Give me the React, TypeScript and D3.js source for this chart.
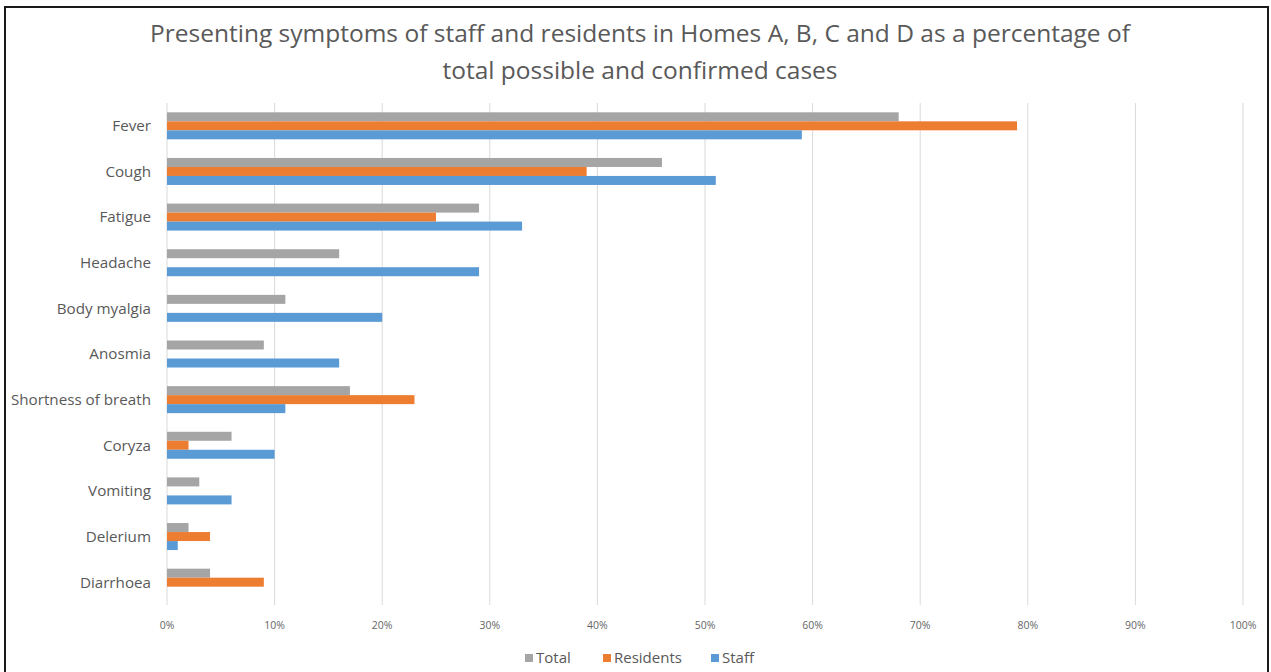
import React from "react";
import * as d3 from "d3";

// Symptom categories, top to bottom
const categories = [
  "Fever",
  "Cough",
  "Fatigue",
  "Headache",
  "Body myalgia",
  "Anosmia",
  "Shortness of breath",
  "Coryza",
  "Vomiting",
  "Delerium",
  "Diarrhoea",
];

// Percentages of total possible and confirmed cases
const totalValues = [68, 46, 29, 16, 11, 9, 17, 6, 3, 2, 4];
const residentsValues = [79, 39, 25, 0, 0, 0, 23, 2, 0, 4, 9];
const staffValues = [59, 51, 33, 29, 20, 16, 11, 10, 6, 1, 0];

const seriesNames = ["Total", "Residents", "Staff"];
const seriesColors = ["#a5a5a5", "#ed7d31", "#5b9bd5"];
const seriesValues = [totalValues, residentsValues, staffValues];

const xTicks = [0, 10, 20, 30, 40, 50, 60, 70, 80, 90, 100];

const titleLines = [
  "Presenting symptoms of staff and residents in Homes A, B, C and D as a percentage of",
  "total possible and confirmed cases",
];

const W = 1271;
const H = 672;
const FONT = "'Open Sans', 'Noto Sans', sans-serif";
const TEXT = "#595959";

export default function App() {
  const plot = { left: 167, right: 1243, top: 103, bottom: 605 };

  const x = d3.scaleLinear().domain([0, 100]).range([plot.left, plot.right]);
  const y = d3
    .scaleBand<string>()
    .domain(categories)
    .range([plot.top, plot.bottom])
    .paddingInner(0)
    .paddingOuter(0);

  const barH = 9;
  const groupH = barH * seriesNames.length;

  const legendItems = [
    { name: seriesNames[0], x: 525 },
    { name: seriesNames[1], x: 603 },
    { name: seriesNames[2], x: 711 },
  ];

  return (
    <svg
      width={W}
      height={H}
      style={{ position: "absolute", left: 0, top: 0, background: "#fff" }}
      fontFamily={FONT}
    >
      <rect x={0} y={0} width={W} height={H} fill="#fff" />
      {/* frame */}
      <rect
        x={5}
        y={7}
        width={1263}
        height={H + 10}
        fill="none"
        stroke="#1a1a1a"
        strokeWidth={2}
      />

      {/* title */}
      {titleLines.map((t, i) => (
        <text
          key={i}
          x={640}
          y={42 + i * 37}
          textAnchor="middle"
          fontSize={24.5}
          fill={TEXT}
        >
          {t}
        </text>
      ))}

      {/* gridlines */}
      {xTicks.map((t) => (
        <line
          key={t}
          x1={x(t)}
          x2={x(t)}
          y1={plot.top}
          y2={plot.bottom}
          stroke="#d9d9d9"
          strokeWidth={1}
        />
      ))}

      {/* bars */}
      {categories.map((c, ci) => {
        const y0 = (y(c) as number) + (y.bandwidth() - groupH) / 2;
        return (
          <g key={c}>
            {seriesValues.map((vals, si) =>
              vals[ci] > 0 ? (
                <rect
                  key={si}
                  x={x(0)}
                  y={y0 + si * barH}
                  width={x(vals[ci]) - x(0)}
                  height={barH}
                  fill={seriesColors[si]}
                />
              ) : null
            )}
          </g>
        );
      })}

      {/* category labels */}
      {categories.map((c) => (
        <text
          key={c}
          x={151}
          y={(y(c) as number) + y.bandwidth() / 2}
          dy="0.35em"
          textAnchor="end"
          fontSize={15.2}
          fill={TEXT}
        >
          {c}
        </text>
      ))}

      {/* x tick labels */}
      {xTicks.map((t) => (
        <text
          key={t}
          x={x(t)}
          y={629}
          textAnchor="middle"
          fontSize={10.5}
          fill="#666"
        >
          {`${t}%`}
        </text>
      ))}

      {/* legend */}
      {legendItems.map((it, i) => (
        <g key={it.name}>
          <rect x={it.x} y={654} width={8} height={8} fill={seriesColors[i]} />
          <text x={it.x + 11} y={663} fontSize={15} fill={TEXT}>
            {it.name}
          </text>
        </g>
      ))}
    </svg>
  );
}
